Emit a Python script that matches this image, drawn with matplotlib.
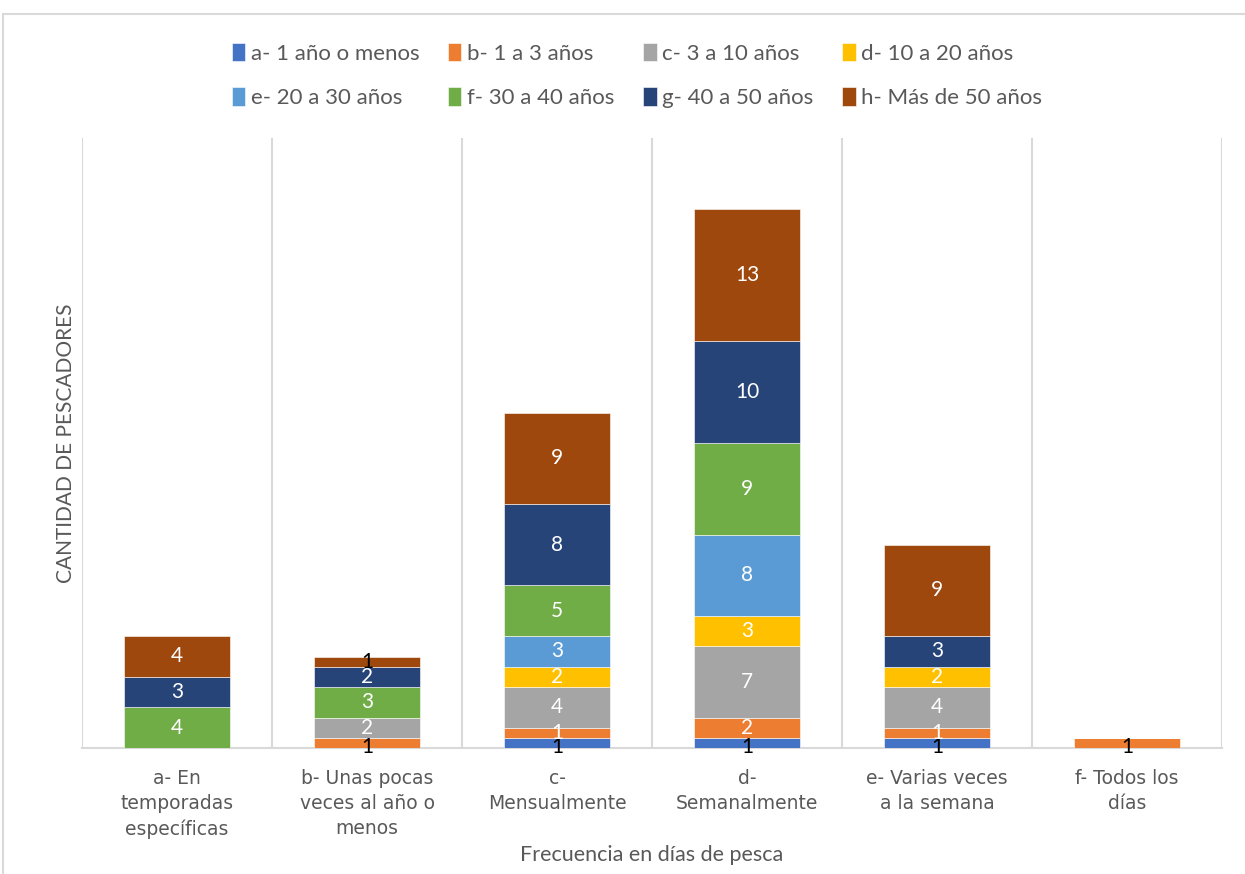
import numpy as np
import matplotlib
matplotlib.use("Agg")
import matplotlib.pyplot as plt
from matplotlib.patches import Rectangle

plt.rcParams['font.family'] = ['Lato', 'DejaVu Sans']

categories = ["a- En\ntemporadas\nespecíficas", "b- Unas pocas\nveces al año o\nmenos",
              "c-\nMensualmente", "d-\nSemanalmente", "e- Varias veces\na la semana",
              "f- Todos los\ndías"]
series_names = ["a- 1 año o menos", "b- 1 a 3 años", "c- 3 a 10 años", "d- 10 a 20 años",
                "e- 20 a 30 años", "f- 30 a 40 años", "g- 40 a 50 años", "h- Más de 50 años"]
a_1_or_less = [0, 0, 1, 1, 1, 0]
b_1_to_3 = [0, 1, 1, 2, 1, 1]
c_3_to_10 = [0, 2, 4, 7, 4, 0]
d_10_to_20 = [0, 0, 2, 3, 2, 0]
e_20_to_30 = [0, 0, 3, 8, 0, 0]
f_30_to_40 = [4, 3, 5, 9, 0, 0]
g_40_to_50 = [3, 2, 8, 10, 3, 0]
h_over_50 = [4, 1, 9, 13, 9, 0]
values = [a_1_or_less, b_1_to_3, c_3_to_10, d_10_to_20, e_20_to_30, f_30_to_40, g_40_to_50, h_over_50]
colors = ["#4472C4", "#ED7D31", "#A5A5A5", "#FFC000", "#5B9BD5", "#70AD47", "#264478", "#9E480E"]

W, H = 1245, 874
fig = plt.figure(figsize=(W / 100, H / 100), dpi=100)
ax = fig.add_axes([82 / W, 1 - 748 / H, (1222 - 82) / W, (748 - 138) / H])

x = np.arange(len(categories))
bottom = np.zeros(len(categories))
totals = np.array(values).sum(axis=0)
handles = []
for name, vals, col in zip(series_names, values, colors):
    vals = np.array(vals, dtype=float)
    b = ax.bar(x, vals, 0.56, bottom=bottom, color=col, label=name,
               edgecolor="white", linewidth=0.4, zorder=3)
    handles.append(b)
    for j, v in enumerate(vals):
        if v <= 0:
            continue
        is_bottom = bottom[j] == 0
        is_top = bottom[j] + v == totals[j]
        # small end segments get a black label, as in the original
        tc = "black" if v == 1 and (is_bottom or is_top) else "white"
        yy = bottom[j] + v / 2
        if tc == "black" and is_bottom:
            yy -= 0.45
        ax.text(x[j], yy, f"{int(v)}", ha="center", va="center", color=tc,
                fontsize=15, zorder=4)
    bottom += vals

ax.set_xlim(-0.5, len(categories) - 0.5)
ax.set_ylim(0, 60)
ax.set_yticks([])
ax.set_xticks(x)
ax.set_xticklabels(categories, fontsize=13.5, color="#595959", family="DejaVu Sans",
                   linespacing=1.4)
ax.tick_params(axis="x", length=0, pad=15)
ax.set_xticks(np.arange(-0.5, len(categories)), minor=True)
ax.tick_params(axis="x", which="minor", length=0)
ax.grid(which="minor", axis="x", color="#D9D9D9", linewidth=1.5, zorder=0)
for s in ["top", "right", "left"]:
    ax.spines[s].set_visible(False)
ax.spines["bottom"].set_color("#D9D9D9")
ax.spines["bottom"].set_linewidth(1.5)

ax.set_ylabel("CANTIDAD DE PESCADORES", fontsize=15, color="#595959", labelpad=4)
ax.set_xlabel("Frecuencia en días de pesca", fontsize=15.5, color="#595959", labelpad=5)

# legend filled row by row like the original
order = [0, 4, 1, 5, 2, 6, 3, 7]
fig.legend([handles[i] for i in order], [series_names[i] for i in order],
           loc="upper center", bbox_to_anchor=(637 / W, 1 - 23 / H), ncol=4,
           frameon=False, fontsize=16, handlelength=0.6, handleheight=0.9,
           handletextpad=0.25, columnspacing=1.3, labelspacing=1.05,
           labelcolor="#595959")

fig.patches.append(Rectangle((3 / W, -0.1), 1.2, 1 - 14 / H + 0.1, transform=fig.transFigure,
                             fill=False, edgecolor="#D9D9D9", linewidth=1.5))

fig.savefig("out.png", dpi=100)
